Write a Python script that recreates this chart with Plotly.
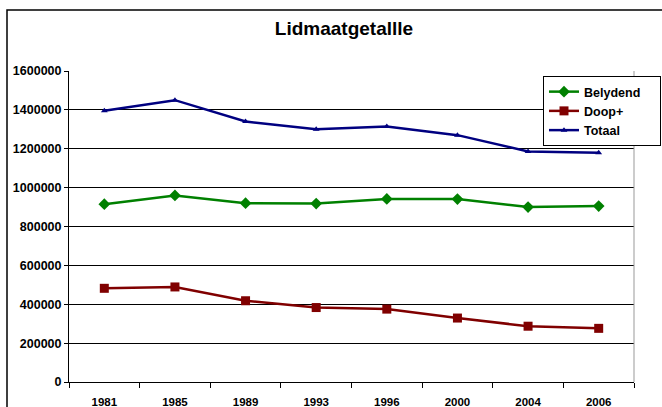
import plotly.graph_objects as go

years = ["1981", "1985", "1989", "1993", "1996", "2000", "2004", "2006"]
belydend = [915000, 960000, 920000, 918000, 942000, 941000, 900000, 905000]
doop = [482000, 489000, 418000, 383000, 375000, 329000, 287000, 276000]
totaal = [1395000, 1450000, 1340000, 1300000, 1315000, 1270000, 1186000, 1180000]
yticks = [0, 200000, 400000, 600000, 800000, 1000000, 1200000, 1400000, 1600000]

pad = "&nbsp;" * 4
fig = go.Figure()
fig.add_trace(go.Scatter(x=years, y=belydend, name="<b>Belydend</b>" + pad, mode="lines+markers",
                         line=dict(color="#008000", width=2.5),
                         marker=dict(symbol="diamond", size=9, color="#008000")))
fig.add_trace(go.Scatter(x=years, y=doop, name="<b>Doop+</b>", mode="lines+markers",
                         line=dict(color="#800000", width=2.5),
                         marker=dict(symbol="square", size=9, color="#800000")))
fig.add_trace(go.Scatter(x=years, y=totaal, name="<b>Totaal</b>", mode="lines+markers",
                         line=dict(color="#000080", width=2.5),
                         marker=dict(symbol="triangle-up", size=6, color="#000080")))

L, R, T, B = 69, 28, 71, 25
W, H = 662, 407
pw, ph = W - L - R, H - T - B

def px(x):
    return (x - L) / pw

def py(y):
    return (H - B - y) / ph

fig.update_layout(
    width=W, height=H,
    margin=dict(l=L, r=R, t=T, b=B, autoexpand=False),
    paper_bgcolor="white", plot_bgcolor="white",
    font=dict(family="Arial, Liberation Sans, sans-serif", color="black"),
    title=dict(text="<b>Lidmaatgetallle</b>", x=344 / W, xref="container",
               xanchor="center", y=1 - 28.5 / H, yanchor="middle",
               font=dict(size=19, color="black")),
    showlegend=True,
    legend=dict(x=px(543), y=py(76), xanchor="left", yanchor="top",
                bordercolor="black", borderwidth=1, bgcolor="white",
                font=dict(size=12.5, color="black"), tracegroupgap=0,
                itemwidth=30),
    xaxis=dict(type="category", showgrid=False, showline=True, linecolor="black",
               linewidth=1, ticks="outside", tickson="boundaries", ticklen=5,
               tickcolor="black", tickfont=dict(size=11.5), automargin=False,
               ticklabelstandoff=9,
               tickprefix="<b>", ticksuffix="</b>", range=[-0.5, 7.5]),
    yaxis=dict(range=[0, 1600000], tickvals=yticks,
               ticktext=[f"<b>{v}</b>" for v in yticks],
               showgrid=True, gridcolor="black", gridwidth=1,
               showline=True, linecolor="black", linewidth=1,
               ticks="outside", ticklen=4, tickcolor="black", automargin=False,
               tickfont=dict(size=12.5), zeroline=False),
    shapes=[
        dict(type="rect", xref="paper", yref="paper",
             x0=px(7), x1=px(700), y0=py(440), y1=py(10),
             line=dict(color="black", width=1.5), fillcolor="rgba(0,0,0,0)", layer="below"),
        dict(type="line", xref="paper", yref="paper",
             x0=1, x1=1, y0=0, y1=1, line=dict(color="#999999", width=1)),
    ],
)

fig.write_html("out.html", config={"displayModeBar": False},
               post_script="document.body.style.margin='0';")
